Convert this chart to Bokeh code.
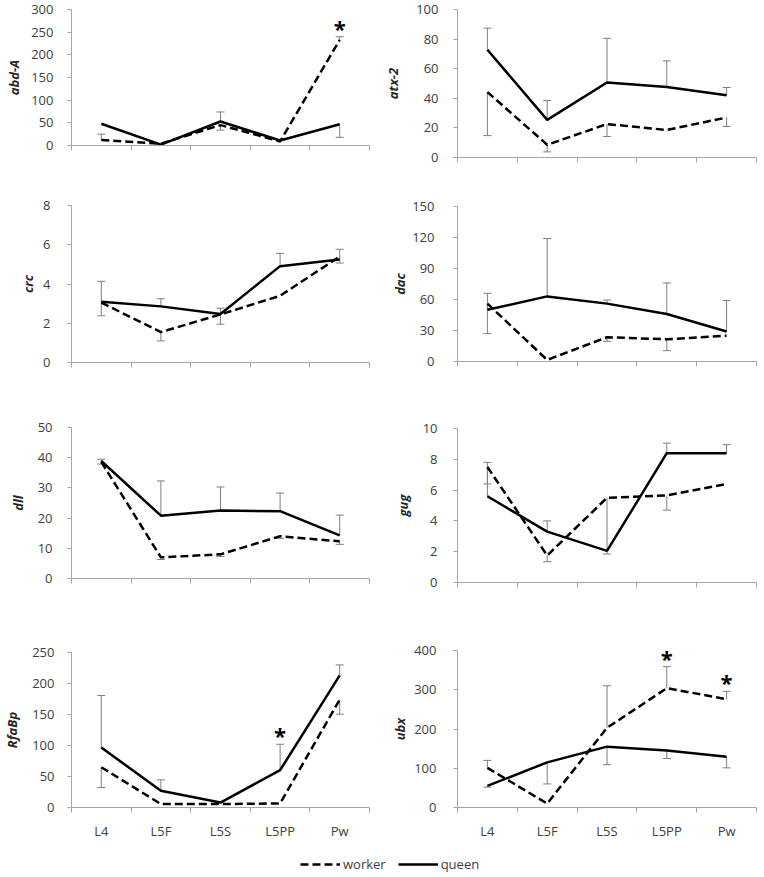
from bokeh.plotting import figure
from bokeh.models import Range1d, FixedTicker, ColumnDataSource, Whisker, TeeHead, Legend, LegendItem
from bokeh.layouts import row, column
from bokeh.embed import file_html
from bokeh.resources import INLINE
from bokeh.core.properties import value

# ---------------- data ----------------
stages = ["L4", "L5F", "L5S", "L5PP", "Pw"]

abd_ticks = [0, 50, 100, 150, 200, 250, 300]
abd_queen = [48, 2, 53, 11, 47]
abd_worker = [12, 4, 45, 9, 233]
abd_queen_hi = [None, None, 74, None, None]
abd_queen_lo = [None, None, None, None, 18]
abd_worker_hi = [25, None, None, None, 240]
abd_worker_lo = [None, None, 34, None, None]
abd_stars = ["Pw"]

atx_ticks = [0, 20, 40, 60, 80, 100]
atx_queen = [72.8, 25.4, 50.7, 47.6, 42]
atx_worker = [44.2, 8.6, 22.6, 18.6, 27]
atx_queen_hi = [87.4, 38.5, 80.5, 65.3, 47.3]
atx_queen_lo = [None, None, None, None, None]
atx_worker_hi = [None, None, None, None, None]
atx_worker_lo = [14.8, 3.8, 14.2, None, 21]
atx_stars = []

crc_ticks = [0, 2, 4, 6, 8]
crc_queen = [3.1, 2.86, 2.47, 4.91, 5.25]
crc_worker = [3.05, 1.55, 2.45, 3.4, 5.4]
crc_queen_hi = [4.14, 3.25, 2.77, 5.56, 5.77]
crc_queen_lo = [None, None, None, None, None]
crc_worker_hi = [None, None, None, None, None]
crc_worker_lo = [2.38, 1.1, 1.95, None, 5.07]
crc_stars = []

dac_ticks = [0, 30, 60, 90, 120, 150]
dac_queen = [50, 63, 56, 46, 29]
dac_worker = [56, 1.5, 23.5, 21.5, 25]
dac_queen_hi = [66, 119, 59.5, 76, 59]
dac_queen_lo = [None, None, None, None, None]
dac_worker_hi = [None, None, None, None, None]
dac_worker_lo = [27, None, 19.5, 10.5, None]
dac_stars = []

dll_ticks = [0, 10, 20, 30, 40, 50]
dll_queen = [38.9, 20.8, 22.5, 22.3, 14.3]
dll_worker = [38.6, 7.0, 8.0, 14.0, 12.3]
dll_queen_hi = [39.5, 32.3, 30.3, 28.3, 21]
dll_queen_lo = [None, None, None, None, None]
dll_worker_hi = [None, None, None, None, None]
dll_worker_lo = [37.9, 6.3, 7.3, 13.3, 11.3]
dll_stars = []

gug_ticks = [0, 2, 4, 6, 8, 10]
gug_queen = [5.6, 3.3, 2.05, 8.4, 8.4]
gug_worker = [7.5, 1.75, 5.5, 5.65, 6.4]
gug_queen_hi = [7.8, 4.0, None, 9.05, 8.95]
gug_queen_lo = [None, None, None, None, None]
gug_worker_hi = [None, None, None, None, None]
gug_worker_lo = [6.4, 1.35, 1.85, 4.7, None]
gug_stars = []

rfa_ticks = [0, 50, 100, 150, 200, 250]
rfa_queen = [96.8, 26.9, 8, 60.2, 213]
rfa_worker = [65, 5.5, 5.5, 6.5, 174]
rfa_queen_hi = [180.6, 44.6, None, 102, 230]
rfa_queen_lo = [None, None, None, None, None]
rfa_worker_hi = [None, None, None, None, None]
rfa_worker_lo = [32.3, None, None, None, 150.5]
rfa_stars = ["L5PP"]

ubx_ticks = [0, 100, 200, 300, 400]
ubx_queen = [55, 115, 155, 145, 129]
ubx_worker = [101, 10, 203, 304, 276]
ubx_queen_hi = [None, None, None, None, None]
ubx_queen_lo = [52, 60, 109, 125, 101]
ubx_worker_hi = [120, None, 310, 359, 296]
ubx_worker_lo = [None, None, None, None, None]
ubx_stars = ["L5PP", "Pw"]

# ---------------- style ----------------
FONT = "Open Sans"
AXIS_GRAY = "#a6a6a6"
TEXT = "#404040"
ERR = "#7f7f7f"
WORKER_DASH = "8 4"


def add_err(p, xs, vals, ends, up):
    bx, lo, hi = [], [], []
    for x, v, e in zip(xs, vals, ends):
        if e is None:
            continue
        bx.append(x)
        if up:
            lo.append(v)
            hi.append(e)
        else:
            lo.append(e)
            hi.append(v)
    if not bx:
        return
    src = ColumnDataSource(dict(x=bx, lo=lo, hi=hi))
    head = TeeHead(size=8, line_color=ERR, line_width=1)
    w = Whisker(base="x", lower="lo", upper="hi", source=src, dimension="height",
                line_color=ERR, line_width=1,
                upper_head=head if up else None,
                lower_head=None if up else head)
    p.add_layout(w)


def panel(gene, ticks, queen, worker, q_hi, q_lo, w_hi, w_lo, stars,
          width, height, bl, br, bt, bb, tls, als, show_x):
    xs = [i + 0.5 for i in range(len(stages))]
    p = figure(width=width, height=height,
               x_range=Range1d(0, len(stages)), y_range=Range1d(ticks[0], ticks[-1]),
               output_backend="svg", toolbar_location=None,
               min_border_left=bl, min_border_right=br,
               min_border_top=bt, min_border_bottom=bb)
    p.outline_line_color = None
    p.xgrid.visible = False
    p.ygrid.visible = False
    p.background_fill_color = "white"
    p.border_fill_color = "white"

    add_err(p, xs, queen, q_hi, True)
    add_err(p, xs, queen, q_lo, False)
    add_err(p, xs, worker, w_hi, True)
    add_err(p, xs, worker, w_lo, False)

    p.line(xs, worker, line_color="black", line_width=2.5, line_dash=WORKER_DASH)
    p.line(xs, queen, line_color="black", line_width=2.5)

    if stars:
        sx, sy = [], []
        for s in stars:
            i = stages.index(s)
            cands = [queen[i], worker[i]] + [a[i] for a in (q_hi, w_hi) if a[i] is not None]
            sx.append(xs[i])
            sy.append(max(cands))
        p.text(x=sx, y=sy, text=["*"] * len(sx), text_font=value(FONT),
               text_font_style="bold", text_font_size="22px", text_align="center",
               text_baseline="alphabetic", y_offset=-9, text_color="black")

    ya = p.yaxis[0]
    ya.ticker = FixedTicker(ticks=ticks)
    ya.axis_line_color = AXIS_GRAY
    ya.major_tick_line_color = AXIS_GRAY
    ya.major_tick_out = 4
    ya.major_tick_in = 0
    ya.minor_tick_line_color = None
    ya.major_label_text_font = FONT
    ya.major_label_text_font_size = "13px"
    ya.major_label_text_color = TEXT
    ya.major_label_standoff = tls
    ya.axis_label = gene
    ya.axis_label_text_font = FONT
    ya.axis_label_text_font_style = "bold italic"
    ya.axis_label_text_font_size = "13px"
    ya.axis_label_text_color = "#262626"
    ya.axis_label_standoff = als

    xa = p.xaxis[0]
    bounds = list(range(len(stages) + 1))
    xa.axis_line_color = AXIS_GRAY
    xa.major_tick_line_color = None
    xa.minor_tick_line_color = AXIS_GRAY
    xa.minor_tick_out = 5
    xa.minor_tick_in = 0
    xa.major_label_text_font = FONT
    xa.major_label_text_color = TEXT
    xa.major_label_text_font_size = "13px"
    if show_x:
        xa.ticker = FixedTicker(ticks=xs, minor_ticks=bounds)
        xa.major_label_overrides = {x: s for x, s in zip(xs, stages)}
        xa.major_label_standoff = 8
    else:
        xa.ticker = FixedTicker(ticks=[], minor_ticks=bounds)
        xa.major_label_standoff = 0
    return p


f1 = panel("abd-A", abd_ticks, abd_queen, abd_worker, abd_queen_hi, abd_queen_lo,
           abd_worker_hi, abd_worker_lo, abd_stars, 380, 180, 63, 7, 9, 35, 14, 5, False)
f3 = panel("crc", crc_ticks, crc_queen, crc_worker, crc_queen_hi, crc_queen_lo,
           crc_worker_hi, crc_worker_lo, crc_stars, 380, 220, 65, 11, 25, 38, 17, 3, False)
f5 = panel("dll", dll_ticks, dll_queen, dll_worker, dll_queen_hi, dll_queen_lo,
           dll_worker_hi, dll_worker_lo, dll_stars, 380, 225, 65, 9, 27, 47, 15, 8, False)
f7 = panel("RfaBp", rfa_ticks, rfa_queen, rfa_worker, rfa_queen_hi, rfa_queen_lo,
           rfa_worker_hi, rfa_worker_lo, rfa_stars, 380, 220, 63, 11, 27, 38, 13, 8, True)

f2 = panel("atx-2", atx_ticks, atx_queen, atx_worker, atx_queen_hi, atx_queen_lo,
           atx_worker_hi, atx_worker_lo, atx_stars, 384, 180, 77, 7, 9, 23, 15, 11, False)
f4 = panel("dac", dac_ticks, dac_queen, dac_worker, dac_queen_hi, dac_queen_lo,
           dac_worker_hi, dac_worker_lo, dac_stars, 384, 220, 77, 4, 26, 39, 19, 0, False)
f6 = panel("gug", gug_ticks, gug_queen, gug_worker, gug_queen_hi, gug_queen_lo,
           gug_worker_hi, gug_worker_lo, gug_stars, 384, 225, 73, 6, 28, 43, 16, 8, False)
f8 = panel("ubx", ubx_ticks, ubx_queen, ubx_worker, ubx_queen_hi, ubx_queen_lo,
           ubx_worker_hi, ubx_worker_lo, ubx_stars, 384, 220, 75, 8, 25, 38, 17, 2, True)

# legend strip
lp = figure(width=764, height=32, x_range=Range1d(0, 1), y_range=Range1d(0, 1),
            output_backend="svg", toolbar_location=None,
            min_border_left=0, min_border_right=0, min_border_top=0, min_border_bottom=0)
lp.axis.visible = False
lp.xgrid.visible = False
lp.ygrid.visible = False
lp.outline_line_color = None
rw = lp.line(x=[5, 6], y=[5, 6], line_color="black", line_width=2.5, line_dash=WORKER_DASH)
rq = lp.line(x=[5, 6], y=[5, 6], line_color="black", line_width=2.5)
legend = Legend(items=[LegendItem(label="worker", renderers=[rw]),
                       LegendItem(label="queen", renderers=[rq])],
                orientation="horizontal", location=(300, 4),
                glyph_width=40, glyph_height=14, label_standoff=3, spacing=12,
                padding=0, margin=0, border_line_color=None, background_fill_alpha=0,
                label_text_font=FONT, label_text_font_size="13px", label_text_color=TEXT)
lp.add_layout(legend)

layout = column(row(column(f1, f3, f5, f7), column(f2, f4, f6, f8)), lp)

with open("out.html", "w") as fh:
    fh.write(file_html(layout, INLINE))
